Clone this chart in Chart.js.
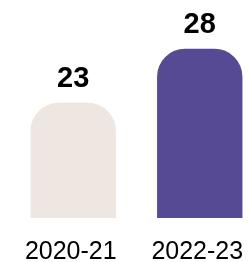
<!DOCTYPE html>
<html>
<head>
<meta charset="utf-8">
<script src="https://cdn.jsdelivr.net/npm/chart.js@4/dist/chart.umd.min.js"></script>
<style>
  body { margin: 0; overflow: hidden; background: #fff; }
</style>
</head>
<body>
<canvas id="myChart" width="263" height="262"></canvas>
<script>
const years = ["2020-21", "2022-23"];
const counts = [23, 28];
const barColors = ["#EDE6E1", "#574A94"];

// draws the bold number over each bar
const valueLabels = {
  id: "valueLabels",
  afterDatasetsDraw(chart) {
    const ctx = chart.ctx;
    const meta = chart.getDatasetMeta(0);
    ctx.save();
    ctx.font = "bold 29px 'Liberation Sans', Arial, sans-serif";
    ctx.fillStyle = "#000";
    ctx.textAlign = "center";
    ctx.textBaseline = "alphabetic";
    meta.data.forEach((bar, i) => {
      ctx.fillText(String(counts[i]), bar.x, bar.y - 16);
    });
    ctx.restore();
  }
};

new Chart(document.getElementById("myChart"), {
  type: "bar",
  data: {
    labels: years,
    datasets: [{
      data: counts,
      backgroundColor: barColors,
      borderWidth: 0,
      borderRadius: { topLeft: 28, topRight: 28, bottomLeft: 0, bottomRight: 0 },
      borderSkipped: "bottom",
      barPercentage: 0.9,
      categoryPercentage: 0.75
    }]
  },
  options: {
    responsive: false,
    animation: false,
    layout: { padding: { left: 10, right: 0, top: 0, bottom: 0 } },
    plugins: {
      legend: { display: false },
      tooltip: { enabled: false }
    },
    scales: {
      x: {
        grid: { display: false },
        border: { display: false },
        afterFit(scale) { scale.height = 44; },
        ticks: {
          padding: 11,
          labelOffset: -2.5,
          maxRotation: 0,
          color: "#000",
          font: { family: "'Liberation Sans', Arial, sans-serif", size: 25 }
        }
      },
      y: {
        display: false,
        min: 12.35,
        max: 32.5
      }
    }
  },
  plugins: [valueLabels]
});
</script>
</body>
</html>
